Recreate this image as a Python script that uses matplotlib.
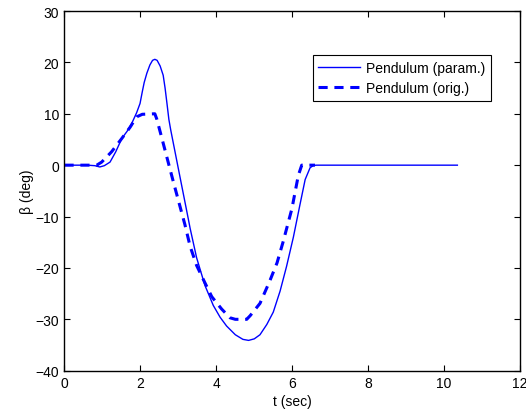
import matplotlib
matplotlib.use("Agg")
import matplotlib.pyplot as plt

plt.rcParams['font.family'] = ['Liberation Sans', 'DejaVu Sans']

# Pendulum (param.) - solid
t_param = [0, 0.6, 0.8, 0.93, 1.05, 1.2, 1.35, 1.51, 1.65, 1.77, 1.9, 1.99,
           2.05, 2.10, 2.17, 2.25, 2.32, 2.38, 2.44, 2.52, 2.60, 2.65, 2.70,
           2.75, 2.80, 3.0, 3.26, 3.31, 3.48, 3.70, 3.92, 4.10, 4.27, 4.50, 4.70,
           4.85, 5.00, 5.15, 5.33, 5.50, 5.68, 5.85, 6.03, 6.20, 6.34, 6.47,
           6.56, 6.64, 7.0, 10.35]
b_param = [0, 0, -0.1, -0.35, -0.1, 0.6, 2.6, 5.2, 6.6, 8.1, 10.2, 12.0,
           14.3, 16.1, 17.9, 19.5, 20.4, 20.6, 20.4, 19.3, 17.5, 15.0, 12.0,
           8.9, 6.8, -0.7, -10.4, -12.3, -18.0, -23.4, -27.3, -29.6, -31.3, -33.0, -33.9,
           -34.1, -33.8, -33.0, -31.0, -28.6, -24.5, -19.7, -14.0, -7.8, -2.8, -0.5,
           -0.05, 0, 0, 0]

# Pendulum (orig.) - dashed
t_orig = [0, 0.85, 0.98, 1.24, 1.51, 1.73, 1.9, 2.05, 2.38, 2.43, 2.56, 2.87,
          3.17, 3.31, 3.48, 3.70, 3.88, 4.14, 4.36, 4.50, 4.80, 4.89, 5.15,
          5.41, 5.60, 5.76, 5.99, 6.16, 6.25, 6.6]
b_orig = [0, 0, 0.6, 2.6, 5.2, 7.4, 9.4, 9.9, 10.0, 9.0, 5.4, -3.3,
          -11.5, -15.8, -19.5, -22.9, -25.6, -28.0, -29.7, -30.0, -30.0, -29.3, -26.9,
          -22.5, -19.0, -14.9, -8.5, -2.0, 0, 0]

xticks = [0, 2, 4, 6, 8, 10, 12]
yticks = [-40, -30, -20, -10, 0, 10, 20, 30]

fig = plt.figure(figsize=(5.26, 4.10), dpi=100)
ax = fig.add_axes([0.1226, 0.0934, 0.866, 0.8773])

ax.plot(t_param, b_param, color='#0000ff', lw=1.0, label='Pendulum (param.)')
ax.plot(t_orig, b_orig, color='#0000ff', lw=2.2, dashes=(3, 2.2),
        dash_capstyle='butt', label='Pendulum (orig.)')

ax.set_xlim(0, 12)
ax.set_ylim(-40, 30)
ax.set_xticks(xticks)
ax.set_yticks(yticks)
ax.set_yticklabels(['\u221240', '\u221230', '\u221220', '\u221210', '0', '10', '20', '30'])
ax.tick_params(direction='in', length=4, width=0.8, top=True, right=True,
               labelsize=10, pad=4)
for s in ax.spines.values():
    s.set_linewidth(1.0)

ax.set_xlabel('t (sec)', fontsize=10, labelpad=3)
ax.set_ylabel('\u03b2 (deg)', fontsize=10, labelpad=1)

leg = ax.legend(loc='upper right', bbox_to_anchor=(0.9357, 0.8786),
                borderaxespad=0, fontsize=10, handlelength=3.0,
                fancybox=False, framealpha=1, edgecolor='black',
                labelspacing=0.45, borderpad=0.42, handletextpad=0.4)
leg.get_frame().set_linewidth(0.8)

fig.savefig('out.png', dpi=100)
